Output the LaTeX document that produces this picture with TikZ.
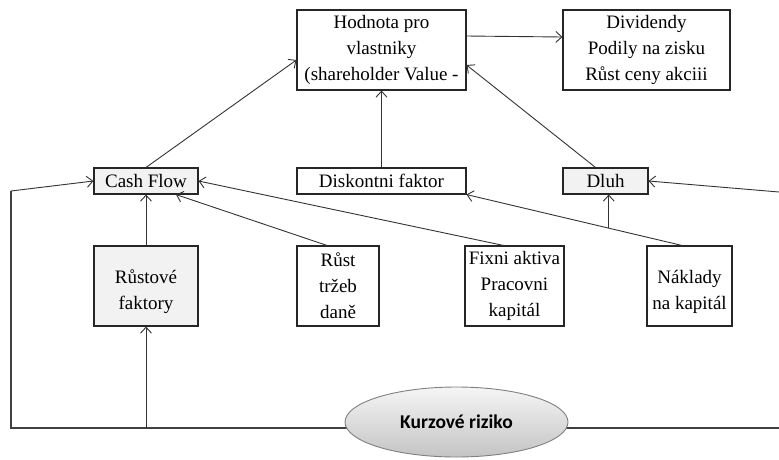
\documentclass[tikz,border=0pt]{standalone}
\usepackage{fontspec}
\setmainfont{Liberation Serif}
\newfontfamily\timesfont{Liberation Serif}
\newfontfamily\calibri{Carlito}
\usetikzlibrary{arrows.meta, positioning, calc, shapes.geometric}
\definecolor{boxgray}{RGB}{242, 242, 242}
\definecolor{ovaltop}{RGB}{245, 245, 245}
\definecolor{ovalbottom}{RGB}{196, 196, 196}

\begin{document}
\begin{tikzpicture}[
  x=1pt, y=-1pt,
  box/.style      = {rectangle, draw=black!85, line width=1.1pt, fill=white,
                     align=center, inner sep=2pt, font=\timesfont\fontsize{19}{26}\selectfont},
  bigbox/.style   = {box, minimum height=80pt},
  smallbox/.style = {box, minimum height=26pt},
  arr/.style      = {-{Straight Barb[length=6pt, width=11pt]}, line width=0.9pt, black!80},
  ln/.style       = {line width=1.1pt, black!75}
]
\useasboundingbox (0,0) rectangle (779,459);

% top row
\node[bigbox, minimum width=169pt] (hodnota) at (381.5,50)
  {Hodnota pro\\vlastniky\\(shareholder Value -};
\node[bigbox, minimum width=167pt] (divid) at (646.5,50)
  {Dividendy\\Podily na zisku\\Růst ceny akciii};

% middle row
\node[smallbox, fill=boxgray, minimum width=104pt] (cash) at (146,181) {Cash Flow};
\node[smallbox, minimum width=169pt] (disk) at (381.5,181) {Diskontni faktor};
\node[smallbox, fill=boxgray, minimum width=85pt]  (dluh) at (605.5,181) {Dluh};

% bottom row
\node[bigbox, fill=boxgray, minimum width=104pt] (rust) at (146,286) {~\\Růstové\\faktory};
\node[bigbox, minimum width=82pt]  (trzby)   at (338,286)   {Růst\\tržeb\\daně};
\node[bigbox, minimum width=99pt]  (fixni)   at (514.5,286) {Fixni aktiva\\Pracovni\\kapitál};
\node[bigbox, minimum width=85pt]  (naklady) at (689.5,286) {~\\Náklady\\na kapitál};

% frame line and the oval on it
\coordinate (lt) at (11,191);
\coordinate (lb) at (11,428);
\coordinate (rb) at (779,428);
\coordinate (rt) at (779,192);
\draw[ln] (lt) -- (lb) -- (rb);
\node[ellipse, minimum width=223pt, minimum height=70pt, draw=black!50, line width=0.9pt,
      top color=ovaltop, bottom color=ovalbottom,
      font=\calibri\bfseries\fontsize{19.5}{22}\selectfont] (riziko) at (456.5,422) {Kurzové riziko};

% arrows
\draw[arr] (cash.north) -- ([yshift=-10pt]hodnota.west);
\draw[arr] (disk.north) -- (hodnota.south);
\draw[arr] ([xshift=-10pt]dluh.north) -- ([yshift=-15pt]hodnota.east);
\draw[arr] ([yshift=14pt]hodnota.east) -- ([yshift=13pt]divid.west);

\draw[arr] (rust.north) -- (cash.south);
\draw[arr] ([xshift=-11pt]trzby.north) -- ([xshift=30pt]cash.south);
\draw[arr] ([xshift=-11pt]fixni.north) -- (cash.east);
\draw[arr] ([xshift=-7.5pt]naklady.north) -- (disk.south east);
\coordinate (tap) at ($([xshift=-7.5pt]naklady.north)!0.34!(disk.south east)$);
\draw[arr] (tap) -- (tap |- dluh.south);

\draw[arr] (lt) -- (cash.west);
\draw[arr] (rt) -- (dluh.east);
\draw[arr] (rust.south |- lb) -- (rust.south);
\end{tikzpicture}
\end{document}
